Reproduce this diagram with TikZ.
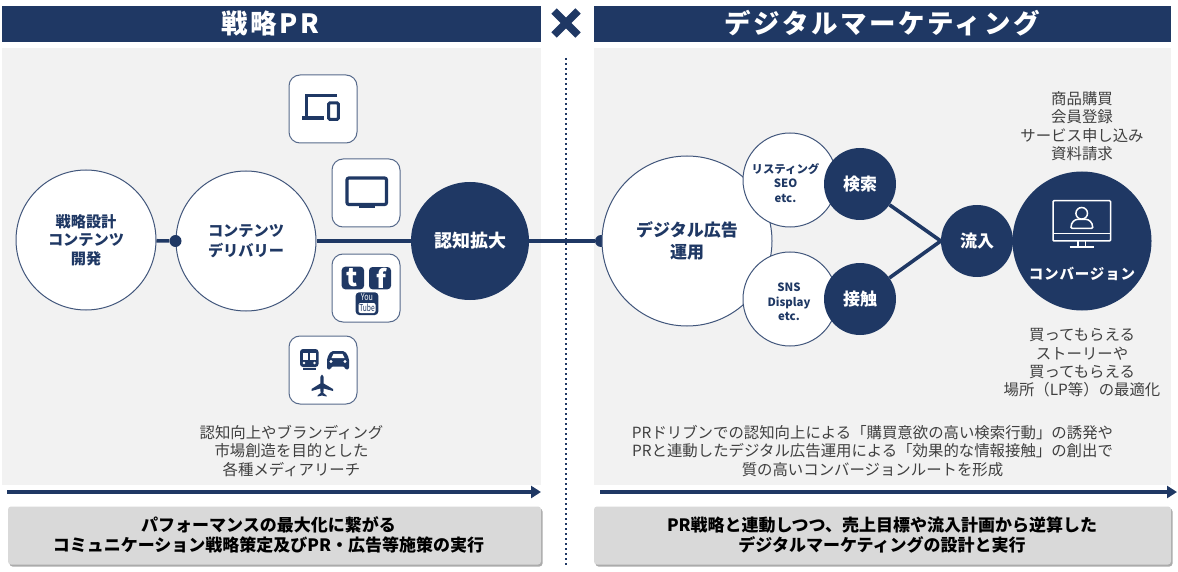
\documentclass[tikz,border=0pt]{standalone}
\usepackage{fontspec}
\setmainfont{Noto Sans CJK JP}
\usepackage{xcolor}
\usepackage{tikz}
\usetikzlibrary{calc, shapes.geometric, positioning, arrows.meta, shadows}
\definecolor{navy}{HTML}{1F3864}
\definecolor{panelgray}{HTML}{F2F2F2}
\definecolor{boxgray}{HTML}{D9D9D9}
\definecolor{bodytext}{HTML}{404040}
\tikzset{
  headbar/.style={fill=navy, draw=none},
  headtext/.style={text=white, font=\fontsize{26.5}{30}\selectfont\bfseries\addfontfeature{LetterSpace=10}},
  panel/.style={fill=panelgray, draw=none},
  ringnode/.style={circle, draw=navy!85, line width=1pt, fill=white, inner sep=0pt, align=center, text=navy, font=\fontsize{15.2}{20}\selectfont\bfseries},
  ringtext/.style={text=navy, align=center, inner sep=0pt, font=\fontsize{11.4}{14.5}\selectfont\bfseries},
  solidnode/.style={circle, fill=navy, inner sep=0pt, align=center, text=white, font=\fontsize{17}{20}\selectfont\bfseries},
  link/.style={draw=navy, line width=3.6pt},
  dotnode/.style={circle, fill=navy, inner sep=0pt, minimum size=12pt},
  iconbox/.style={draw=navy!75, line width=1pt, fill=white, rounded corners=11pt, minimum size=68pt, inner sep=0pt},
  bodynote/.style={text=bodytext, align=center, font=\fontsize{15.4}{18.4}\selectfont},
  flowarrow/.style={draw=navy, line width=3.6pt, -{Triangle[length=10pt,width=12pt]}},
  resultbox/.style={fill=boxgray, draw=none, rounded corners=3pt, minimum height=58pt, drop shadow={shadow xshift=1.5pt, shadow yshift=-2pt, fill=black!55, opacity=0.6}},
  resulttext/.style={align=center, text=black, font=\fontsize{17}{20}\selectfont\bfseries},
}
\begin{document}
\begin{tikzpicture}[x=1pt, y=-1pt]
    \useasboundingbox (0,0) rectangle (1178,572);
    \fill[white] (0,0) rectangle (1178,572);

    % --- panels and headers ---
    \fill[panel] (2,48) rectangle (541,485);
    \fill[panel] (594,48) rectangle (1171,485);
    \fill[headbar] (2,6) rectangle (541,42);
    \fill[headbar] (594,6) rectangle (1171,42);
    \node[headtext] (headleft) at (270,23) {戦略PR};
    \node[headtext] (headright) at (882,23) {デジタルマーケティング};

    % cross mark
    \draw[navy, line width=7.5pt] (554,11) -- (578,35);
    \draw[navy, line width=7.5pt] (578,11) -- (554,35);

    % center dotted line
    \draw[navy, line width=2.5pt, dash pattern=on 2.4pt off 2.6pt] (566,58) -- (566,565);

    % --- left side ---
    \node[ringnode, minimum size=140pt, font=\fontsize{15.2}{18.6}\selectfont\bfseries] (kikaku) at (86,240) {戦略設計\\コンテンツ\\開発};
    \node[ringnode, minimum size=140pt] (contents) at (246,241) {コンテンツ\\デリバリー};
    \node[solidnode, minimum size=118pt, font=\fontsize{18}{20}\selectfont\bfseries] (ninchi) at (470,241) {認知拡大};
    \node[dotnode] (leftdot) at (contents.west) {};
    \draw[link] (kikaku) -- (leftdot);
    \draw[link] (contents) -- (ninchi);

    % icon boxes
    \node[iconbox] (devicebox) at (323,109) {};
    \node[iconbox] (tvbox) at (366,193) {};
    \node[iconbox] (snsbox) at (366,288) {};
    \node[iconbox] (movebox) at (323,370) {};

    % laptop and phone
    \draw[navy, line width=3pt] (337,96) -- (306,96) -- (306,118);
    \fill[navy] (302,116.5) rectangle (323.5,120.5);
    \draw[navy, line width=3pt, rounded corners=1pt, fill=white] (328.7,103) rectangle (338.3,119.3);

    % tv
    \draw[navy, line width=3.2pt, rounded corners=2pt] (347,178) rectangle (386.5,204.5);
    \fill[navy] (359,205) rectangle (374.5,208.5);

    % sns marks
    \fill[navy, rounded corners=3.5pt] (341.7,266.7) rectangle (364,289.3);
    \fill[navy, rounded corners=3.5pt] (369,267) rectangle (391,289.3);
    \fill[navy, rounded corners=3.5pt] (355.7,292.3) rectangle (378.3,315);
    \fill[white, rounded corners=2pt] (358.5,303) rectangle (375.5,313);
    \node[text=white, font=\fontsize{25}{25}\selectfont\bfseries] (tmark) at (352.5,277.5) {t};
    \node[text=white, font=\fontsize{25}{25}\selectfont\bfseries] (fmark) at (381,278) {f};
    \node[text=white, xscale=0.75, font=\fontsize{9.5}{9.5}\selectfont] (youmark) at (367,297.5) {You};
    \node[text=navy, xscale=0.7, font=\fontsize{9.5}{9.5}\selectfont] (tubemark) at (367,307.8) {Tube};

    % train, car, plane
    \fill[navy, rounded corners=3pt] (300,349) rectangle (318.5,367);
    \fill[white] (302.5,353) rectangle (308.4,359.5);
    \fill[white] (310.2,353) rectangle (316,359.5);
    \fill[white] (304,363) circle (1.4);
    \fill[white] (314.5,363) circle (1.4);
    \fill[navy] (303,367.5) rectangle (315.5,370);
    \fill[navy, rounded corners=2pt] (327,358) -- (331,351) -- (345,351) -- (349,358) -- (349,369.5) -- (345,369.5) -- (345,366.5) -- (331,366.5) -- (331,369.5) -- (327,369.5) -- cycle;
    \fill[white] (331.5,358) -- (333.5,353.8) -- (342.5,353.8) -- (344.5,358) -- cycle;
    \fill[white] (331,361.5) circle (1.6);
    \fill[white] (345,361.5) circle (1.6);
    \fill[navy] (322,374.5) -- (323.7,377) -- (323.7,383.5) -- (333,389) -- (333,391) -- (323.7,388.5) -- (323.4,393) -- (326.5,395.5) -- (326.5,396.5) -- (322,395.5) -- (317.5,396.5) -- (317.5,395.5) -- (320.6,393) -- (320.3,388.5) -- (311.5,391) -- (311.5,389) -- (320.3,383.5) -- (320.3,377) -- cycle;

    \node[bodynote] (leftnote) at (291.5,451) {認知向上やブランディング\\市場創造を目的とした\\各種メディアリーチ};

    % --- right side ---
    \node[dotnode] (rightdot) at (601,241) {};
    \draw[link] (ninchi) -- (rightdot);
    \node[ringnode, minimum size=170pt, font=\fontsize{17}{22}\selectfont\bfseries] (koukoku) at (687,241) {デジタル広告\\運用};

    \node[ringnode, minimum size=94pt] (listing) at (790,180) {};
    \node[ringnode, minimum size=94pt] (snsring) at (790,299) {};
    \node[ringtext] (listingtext) at (785.5,183) {リスティング\\SEO\\etc.};
    \node[ringtext] (snstext) at (789,302) {SNS\\Display\\etc.};
    \node[solidnode, minimum size=72pt] (kensaku) at (860,184) {検索};
    \node[solidnode, minimum size=72pt] (sesshoku) at (860,299) {接触};
    \node[solidnode, minimum size=72pt] (ryunyu) at (977,241) {流入};
    \node[solidnode, minimum size=139pt] (conversion) at (1082,241) {};
    \draw[link] (kensaku) -- (ryunyu.west);
    \draw[link] (sesshoku) -- (ryunyu.west);

    % monitor icon
    \draw[white, line width=1.5pt, rounded corners=1pt] (1053,200.7) rectangle (1110.5,241);
    \draw[white, line width=1.5pt] (1053,233.5) -- (1110.5,233.5);
    \draw[white, line width=1.5pt] (1078,241) -- (1078,247) (1085.5,241) -- (1085.5,247) (1069.5,247) -- (1094,247);
    \draw[white, line width=1.5pt] (1081.7,213.3) circle (5.8);
    \draw[white, line width=1.5pt, rounded corners=1pt] (1071,228.3) .. controls (1071,222) and (1075,219.5) .. (1078,219.5) -- (1085.5,219.5) .. controls (1088.5,219.5) and (1092.7,222) .. (1092.7,228.3) -- cycle;
    \node[text=white, font=\fontsize{14.5}{16}\selectfont\bfseries\addfontfeature{LetterSpace=6}] (convlabel) at (1082,274) {コンバージョン};

    \node[bodynote] (goalnote) at (1082,126) {商品購買\\会員登録\\サービス申し込み\\資料請求};
    \node[bodynote] (lpnote) at (1082,363) {買ってもらえる\\ストーリーや\\買ってもらえる\\場所（LP等）の最適化};
    \node[bodynote] (rightnote) at (872.5,451) {PRドリブンでの認知向上による「購買意欲の高い検索行動」の誘発や\\PRと連動したデジタル広告運用による「効果的な情報接触」の創出で\\質の高いコンバージョンルートを形成};

    % --- arrows and bottom boxes ---
    \coordinate (arrowlefta) at (7,492);
    \coordinate (arrowleftb) at (541,492);
    \coordinate (arrowrighta) at (600,492);
    \coordinate (arrowrightb) at (1177,492);
    \draw[flowarrow] (arrowlefta) -- (arrowleftb);
    \draw[flowarrow] (arrowrighta) -- (arrowrightb);
    \node[resultbox, minimum width=533pt] (resultleft) at (274.5,535.5) {};
    \node[resultbox, minimum width=577pt] (resultright) at (882.5,535.5) {};
    \node[resulttext] (resultlefttext) at (268.5,534.5) {パフォーマンスの最大化に繋がる\\コミュニケーション戦略策定及びPR・広告等施策の実行};
    \node[resulttext] (resultrighttext) at (882,534.5) {PR戦略と連動しつつ、売上目標や流入計画から逆算した\\デジタルマーケティングの設計と実行};
\end{tikzpicture}
\end{document}
